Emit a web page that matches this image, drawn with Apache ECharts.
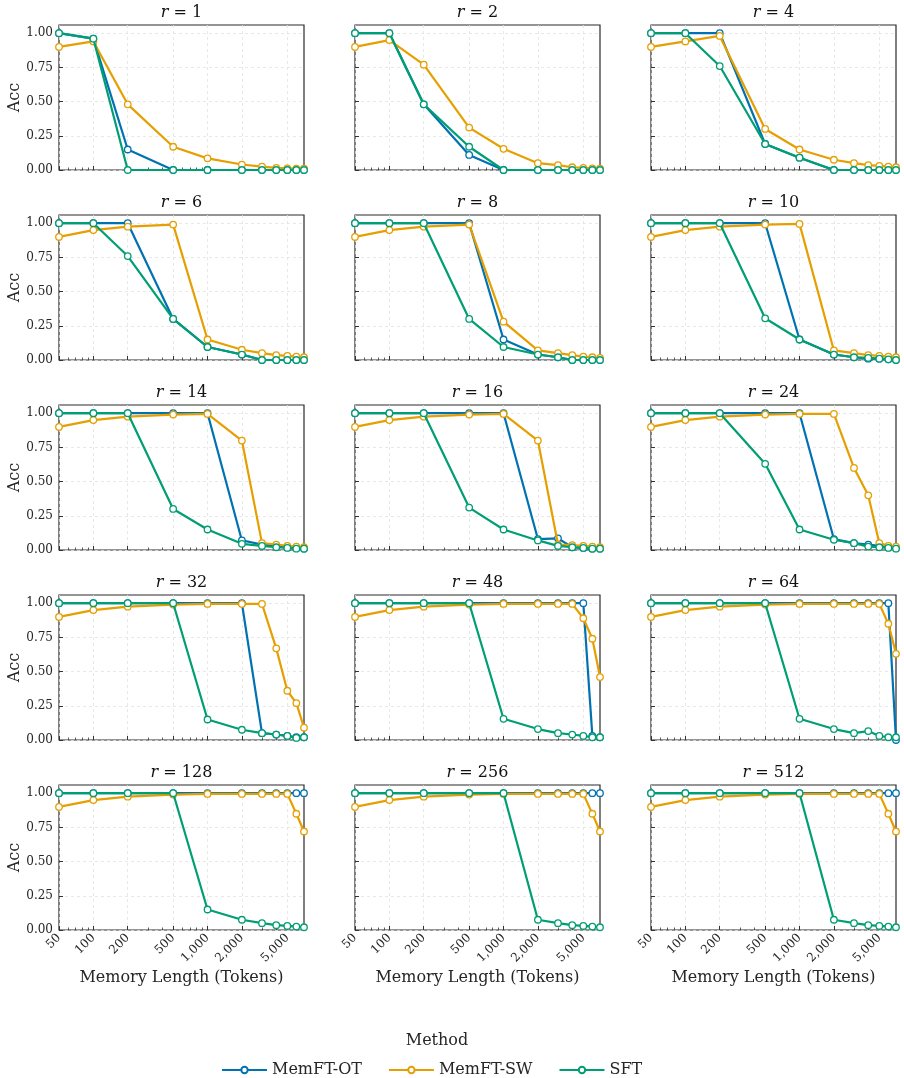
<!DOCTYPE html>
<html>
<head>
<meta charset="utf-8">
<title>Acc vs Memory Length</title>
<script src="https://cdn.jsdelivr.net/npm/echarts@6/dist/echarts.min.js"></script>
<style>
    html, body { margin: 0; padding: 0; background: #fff; }
    #main { width: 904px; height: 1078px; }
</style>
</head>
<body>
<div id="main"></div>
<script>
// x positions (tokens) and panel ranks
var tokens = [50, 100, 200, 500, 1000, 2000, 3000, 4000, 5000, 6000, 7000];
var ranks = [1, 2, 4, 6, 8, 10, 14, 16, 24, 32, 48, 64, 128, 256, 512];
var majorTicks = [50, 100, 200, 500, 1000, 2000, 5000];
var minorTicks = [60, 70, 80, 90, 300, 400, 600, 700, 800, 900, 3000, 4000, 6000, 7000];
var accTicks = [0, 0.25, 0.5, 0.75, 1];
var methods = ['MemFT-OT', 'MemFT-SW', 'SFT'];

// one row per rank, one value per token length
var memftOT = [
    [1, 0.96, 0.15, 0, 0, 0, 0, 0, 0, 0, 0],
    [1, 1, 0.48, 0.11, 0, 0, 0, 0, 0, 0, 0],
    [1, 1, 1, 0.19, 0.09, 0, 0, 0, 0, 0, 0],
    [1, 1, 1, 0.30, 0.095, 0.04, 0, 0, 0, 0, 0],
    [1, 1, 1, 1, 0.15, 0.04, 0.02, 0, 0, 0, 0],
    [1, 1, 1, 1, 0.15, 0.04, 0.02, 0.01, 0.01, 0.005, 0],
    [1, 1, 1, 1, 1, 0.07, 0.04, 0.03, 0.02, 0.015, 0.01],
    [1, 1, 1, 1, 1, 0.08, 0.085, 0.02, 0.015, 0.01, 0.01],
    [1, 1, 1, 1, 1, 0.08, 0.05, 0.04, 0.03, 0.02, 0.015],
    [1, 1, 1, 1, 1, 1, 0.05, 0.04, 0.03, 0.02, 0.02],
    [1, 1, 1, 1, 1, 1, 1, 1, 1, 0.03, 0.02],
    [1, 1, 1, 1, 1, 1, 1, 1, 1, 1, 0],
    [1, 1, 1, 1, 1, 1, 1, 1, 1, 1, 1],
    [1, 1, 1, 1, 1, 1, 1, 1, 1, 1, 1],
    [1, 1, 1, 1, 1, 1, 1, 1, 1, 1, 1]
];
var memftSW = [
    [0.90, 0.94, 0.48, 0.17, 0.085, 0.04, 0.025, 0.015, 0.012, 0.01, 0.01],
    [0.90, 0.95, 0.77, 0.31, 0.155, 0.05, 0.035, 0.02, 0.015, 0.012, 0.01],
    [0.90, 0.94, 0.98, 0.30, 0.15, 0.075, 0.05, 0.035, 0.03, 0.025, 0.02],
    [0.90, 0.95, 0.975, 0.99, 0.15, 0.075, 0.05, 0.035, 0.03, 0.025, 0.02],
    [0.90, 0.95, 0.975, 0.99, 0.28, 0.07, 0.05, 0.035, 0.025, 0.02, 0.015],
    [0.90, 0.95, 0.975, 0.99, 0.995, 0.07, 0.05, 0.035, 0.03, 0.025, 0.02],
    [0.90, 0.95, 0.975, 0.99, 0.995, 0.80, 0.05, 0.04, 0.03, 0.025, 0.02],
    [0.90, 0.95, 0.975, 0.99, 0.995, 0.80, 0.04, 0.035, 0.03, 0.025, 0.02],
    [0.90, 0.95, 0.975, 0.99, 0.995, 0.995, 0.60, 0.40, 0.05, 0.03, 0.025],
    [0.90, 0.95, 0.975, 0.99, 0.995, 0.995, 0.995, 0.67, 0.36, 0.27, 0.09],
    [0.90, 0.95, 0.975, 0.99, 0.995, 0.995, 0.995, 0.995, 0.89, 0.74, 0.46],
    [0.90, 0.95, 0.975, 0.99, 0.995, 0.995, 0.995, 0.995, 0.995, 0.85, 0.63],
    [0.90, 0.95, 0.975, 0.99, 0.995, 0.995, 0.995, 0.995, 0.995, 0.85, 0.72],
    [0.90, 0.95, 0.975, 0.99, 0.995, 0.995, 0.995, 0.995, 0.995, 0.85, 0.72],
    [0.90, 0.95, 0.975, 0.99, 0.995, 0.995, 0.995, 0.995, 0.995, 0.85, 0.72]
];
var sft = [
    [1, 0.96, 0, 0, 0, 0, 0, 0, 0, 0, 0],
    [1, 1, 0.48, 0.17, 0, 0, 0, 0, 0, 0, 0],
    [1, 1, 0.76, 0.19, 0.09, 0, 0, 0, 0, 0, 0],
    [1, 1, 0.76, 0.30, 0.095, 0.04, 0, 0, 0, 0, 0],
    [1, 1, 1, 0.30, 0.095, 0.04, 0.02, 0, 0, 0, 0],
    [1, 1, 1, 0.305, 0.15, 0.04, 0.02, 0.015, 0.01, 0.005, 0],
    [1, 1, 1, 0.30, 0.15, 0.045, 0.03, 0.02, 0.015, 0.01, 0.01],
    [1, 1, 1, 0.31, 0.15, 0.07, 0.03, 0.02, 0.015, 0.01, 0.01],
    [1, 1, 1, 0.63, 0.15, 0.075, 0.05, 0.025, 0.02, 0.015, 0.01],
    [1, 1, 1, 1, 0.15, 0.075, 0.05, 0.04, 0.03, 0.015, 0.02],
    [1, 1, 1, 1, 0.155, 0.08, 0.05, 0.04, 0.03, 0.02, 0.02],
    [1, 1, 1, 1, 0.155, 0.08, 0.05, 0.065, 0.03, 0.02, 0.02],
    [1, 1, 1, 1, 0.15, 0.075, 0.05, 0.035, 0.03, 0.025, 0.02],
    [1, 1, 1, 1, 1, 0.075, 0.05, 0.035, 0.03, 0.025, 0.02],
    [1, 1, 1, 1, 1, 0.075, 0.05, 0.035, 0.03, 0.025, 0.02]
];

var colors = ['#0072B2', '#E69F00', '#009E73'];
var allData = [memftOT, memftSW, sft];
var font = "'DejaVu Serif', serif";
var ink = '#262626';
var colLeft = [59, 355, 651];
var rowTop = [25, 215, 405, 595, 785];
var W = 245, H = 145;

var chart = echarts.init(document.getElementById('main'));

var grids = [], xAxes = [], yAxes = [], series = [], graphics = [];

ranks.forEach(function (r, i) {
    var row = Math.floor(i / 3), col = i % 3;
    var bottomRow = row === 4, leftCol = col === 0;

    grids.push({
        left: colLeft[col], top: rowTop[row], width: W, height: H,
        show: true, borderColor: '#2a2a2a', borderWidth: 1.2
    });

    // major ticks, labels, grid lines
    xAxes.push({
        gridIndex: i, type: 'log', logBase: 10, min: 50, max: 7000, position: 'bottom',
        axisLine: { show: false },
        axisTick: { show: true, inside: true, length: 4, customValues: majorTicks, lineStyle: { color: '#333', width: 1 } },
        axisLabel: {
            show: bottomRow, customValues: majorTicks, rotate: 45, margin: 6,
            fontFamily: font, fontSize: 12, color: ink,
            formatter: function (v) { return Math.round(v).toLocaleString('en-US'); }
        },
        splitLine: { show: true, lineStyle: { type: [3, 3], color: '#e3e3e3', width: 0.8 } },
        name: bottomRow ? 'Memory Length (Tokens)' : '',
        nameLocation: 'middle', nameGap: 40,
        nameTextStyle: { fontFamily: font, fontSize: 16, color: ink }
    });
    // minor ticks
    xAxes.push({
        gridIndex: i, type: 'log', logBase: 10, min: 50, max: 7000, position: 'bottom',
        axisLine: { show: false },
        axisTick: { show: true, inside: true, length: 2.5, customValues: minorTicks, lineStyle: { color: '#333', width: 0.8 } },
        axisLabel: { show: false },
        splitLine: { show: false }
    });

    yAxes.push({
        gridIndex: i, type: 'value', min: 0, max: 1.06,
        axisLine: { show: false },
        axisTick: { show: true, inside: true, length: 4, customValues: accTicks, lineStyle: { color: '#333' } },
        axisLabel: {
            show: leftCol, customValues: accTicks, margin: 6,
            fontFamily: font, fontSize: 12, color: ink,
            formatter: function (v) { return v.toFixed(2); }
        },
        splitLine: { show: true, lineStyle: { type: [3, 3], color: '#e3e3e3', width: 0.8 } },
        name: leftCol ? 'Acc' : '',
        nameLocation: 'middle', nameGap: 36,
        nameTextStyle: { fontFamily: font, fontSize: 16, color: ink }
    });

    graphics.push({
        type: 'text', x: colLeft[col] + W / 2, y: rowTop[row] - 12,
        style: {
            text: '{i|r} = ' + r, textAlign: 'center', textVerticalAlign: 'middle',
            fontFamily: font, fontSize: 16, fontWeight: 'normal', fill: '#111',
            rich: { i: { fontStyle: 'italic', fontWeight: 'normal', fontFamily: font, fontSize: 16, fill: '#111' } }
        }
    });

    methods.forEach(function (m, k) {
        series.push({
            type: 'line', name: m, xAxisIndex: 2 * i, yAxisIndex: i,
            data: tokens.map(function (t, j) { return [t, allData[k][i][j]]; }),
            symbol: 'circle', symbolSize: 6.5, showAllSymbol: true,
            lineStyle: { color: colors[k], width: 2.2 },
            itemStyle: { color: '#fff', borderColor: colors[k], borderWidth: 1.3 },
            z: 2 + k, clip: true, silent: true,
            emphasis: { disabled: true }
        });
    });
});

graphics.push({
    type: 'text', x: 437, y: 1041,
    style: { text: 'Method', textAlign: 'center', textVerticalAlign: 'middle', fontFamily: font, fontSize: 16, fill: ink }
});

chart.setOption({
    animation: false,
    backgroundColor: '#fff',
    grid: grids,
    xAxis: xAxes,
    yAxis: yAxes,
    series: series,
    graphic: graphics,
    legend: {
        data: methods, left: 216, top: 1057,
        itemWidth: 45, itemHeight: 8, itemGap: 26,
        textStyle: { fontFamily: font, fontSize: 16, color: ink }
    }
});
</script>
</body>
</html>
